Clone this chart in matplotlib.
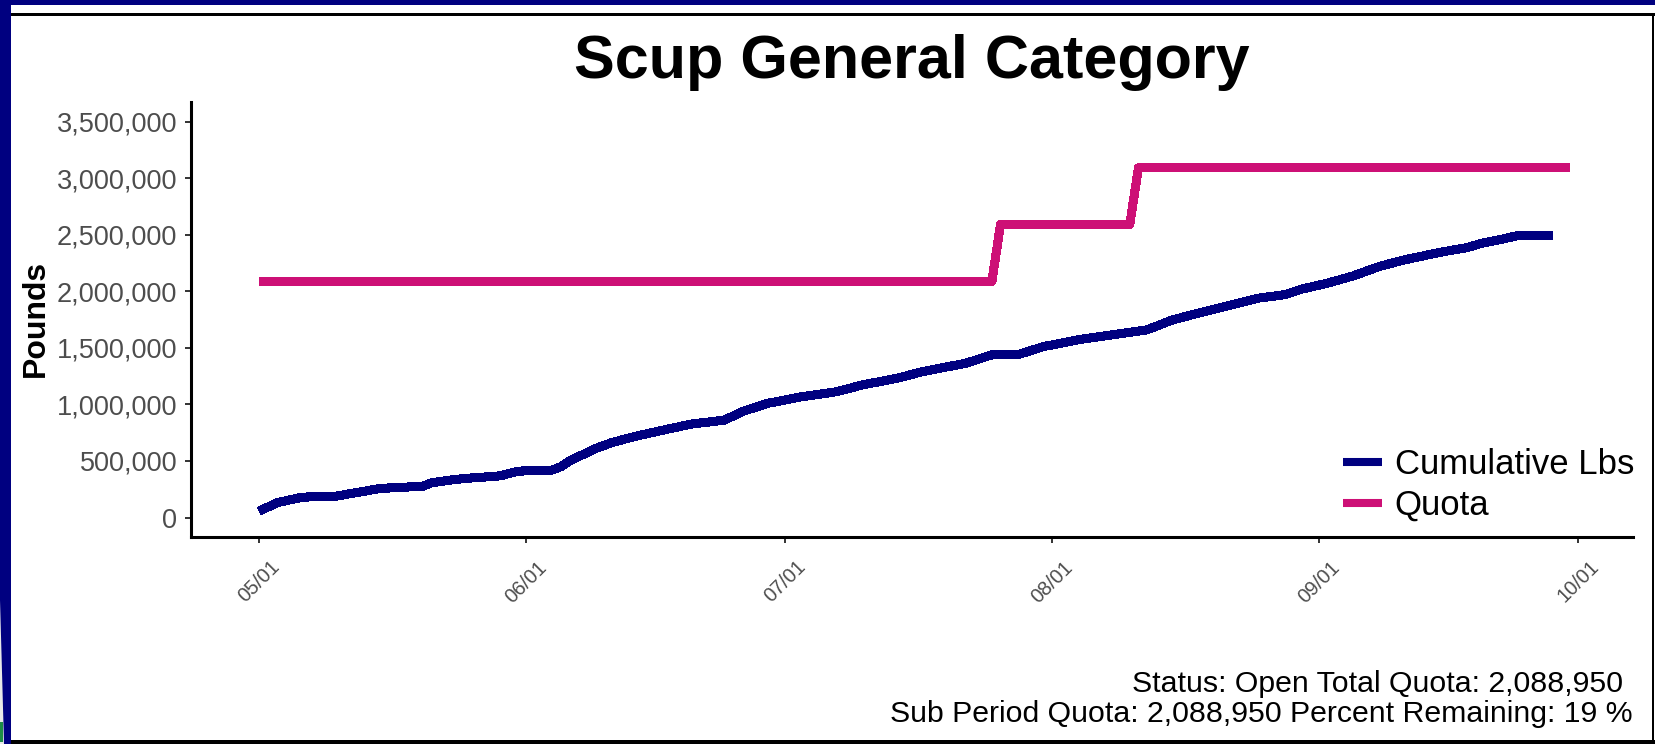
import pandas as pd
import numpy as np
import matplotlib.pyplot as plt
import matplotlib.dates as mdates
from matplotlib.patches import Rectangle, Polygon
from matplotlib.ticker import FuncFormatter

plt.rcParams['font.family'] = ['Liberation Sans', 'DejaVu Sans']

# cumulative landings
cum_dates = ['05-01', '05-03', '05-06', '05-10', '05-13', '05-15', '05-20', '05-21',
             '05-23', '05-25', '05-29', '05-31', '06-04', '06-05', '06-06', '06-09',
             '06-11', '06-14', '06-17', '06-20', '06-24', '06-26', '06-29', '07-03',
             '07-07', '07-10', '07-14', '07-17', '07-22', '07-25', '07-28', '07-31',
             '08-04', '08-08', '08-12', '08-15', '08-18', '08-25', '08-28', '08-30',
             '09-02', '09-05', '09-08', '09-11', '09-15', '09-18', '09-20', '09-22',
             '09-24', '09-28']
cum_lbs = [55000, 130000, 180000, 190000, 230000, 257000, 277000, 307000,
           330000, 346000, 369000, 410000, 420000, 450000, 500000, 610000,
           665000, 725000, 775000, 825000, 862000, 936000, 1010000, 1069000,
           1113000, 1173000, 1232000, 1291000, 1365000, 1439000, 1440000, 1512000,
           1572000, 1616000, 1660000, 1749000, 1808000, 1941000, 1971000, 2021000,
           2074000, 2139000, 2222000, 2281000, 2346000, 2385000, 2429000, 2458000,
           2494000, 2494000]

# quota steps
quota_dates = ['05-01', '07-25', '07-26', '08-10', '08-11', '09-30']
quota_lbs = [2088950, 2088950, 2593000, 2593000, 3094000, 3094000]

tick_dates = ['05-01', '06-01', '07-01', '08-01', '09-01', '10-01']

status_line1 = 'Status: Open Total Quota: 2,088,950'
status_line2 = 'Sub Period Quota: 2,088,950 Percent Remaining: 19 %'

year = '2021-'
cum_x = pd.to_datetime([year + d for d in cum_dates])
quota_x = pd.to_datetime([year + d for d in quota_dates])
ticks_x = pd.to_datetime([year + d for d in tick_dates])

W, H = 1655, 744
fig = plt.figure(figsize=(W / 100, H / 100), dpi=100)
fig.patch.set_facecolor('white')

ax = fig.add_axes([191 / W, 1 - 537.3 / H, (1633 - 191) / W, (537.3 - 102) / H])

navy = '#000080'
pink = '#CD1076'
ax.plot(cum_x, cum_lbs, color=navy, lw=5.8, solid_capstyle='butt',
        antialiased=False, label='Cumulative Lbs')
ax.plot(quota_x, quota_lbs, color=pink, lw=5.8, solid_capstyle='butt',
        antialiased=False, label='Quota')

start = ticks_x[0]
end = ticks_x[-1]
ax.set_xlim(start - pd.Timedelta(days=7.92), end + pd.Timedelta(days=6.38))
ax.set_ylim(-175000, 3675000)

ax.set_xticks(ticks_x)
ax.xaxis.set_major_formatter(mdates.DateFormatter('%m/%d'))
ax.set_yticks(np.arange(0, 3500001, 500000))
ax.yaxis.set_major_formatter(FuncFormatter(lambda v, p: '{:,.0f}'.format(v)))

for s in ['top', 'right']:
    ax.spines[s].set_visible(False)
for s in ['left', 'bottom']:
    ax.spines[s].set_linewidth(2.2)
    ax.spines[s].set_color('black')

ax.tick_params(axis='both', length=4.5, width=1.4, color='#333333', labelcolor='#4D4D4D')
ax.tick_params(axis='y', labelsize=19.5, pad=5.5)
ax.tick_params(axis='x', labelsize=14.5, pad=10)
for lab in ax.get_xticklabels():
    lab.set_rotation(45)
    lab.set_ha('center')
    lab.set_va('top')

leg = ax.legend(loc='center right', bbox_to_anchor=(1634 / W, 1 - 485 / H),
                bbox_transform=fig.transFigure, frameon=False, fontsize=25,
                handlelength=1.15, handletextpad=0.35, labelspacing=0.24,
                borderpad=0, borderaxespad=0)
for line in leg.get_lines():
    line.set_linewidth(5.8)

fig.text(912 / W, 1 - 78 / H, 'Scup General Category', fontsize=44,
         fontweight='bold', ha='center', va='baseline')
fig.text(36 / W, 1 - 318 / H, 'Pounds', fontsize=23, fontweight='bold',
         rotation=90, ha='center', va='center')
fig.text(1623 / W, 1 - 691.7 / H, status_line1, fontsize=21.8, ha='right', va='baseline')
fig.text(1633 / W, 1 - 721.7 / H, status_line2, fontsize=21.8, ha='right', va='baseline')


# frame around the picture
def box(x, y, w, h, c):
    fig.add_artist(Rectangle((x / W, 1 - (y + h) / H), w / W, h / H,
                             transform=fig.transFigure, color=c, lw=0))


box(0, 0, W, 5, navy)
box(11, 13.5, W - 11, 2.5, 'black')
box(1652, 13.5, 2, 729, 'black')
box(11, 740, W - 11, 4, 'black')
fig.add_artist(Polygon([(0, 1 - 600 / H), (4 / W, 0), (0, 0)], closed=True,
                       transform=fig.transFigure, color='#E8E8E8', lw=0))
fig.add_artist(Polygon([(0, 1), (11 / W, 1), (11 / W, 0), (4 / W, 0), (0, 1 - 600 / H)],
                       closed=True, transform=fig.transFigure, color=navy, lw=0))
box(0, 722, 3, 20, '#1E8C46')

fig.savefig('out.png', dpi=100)
